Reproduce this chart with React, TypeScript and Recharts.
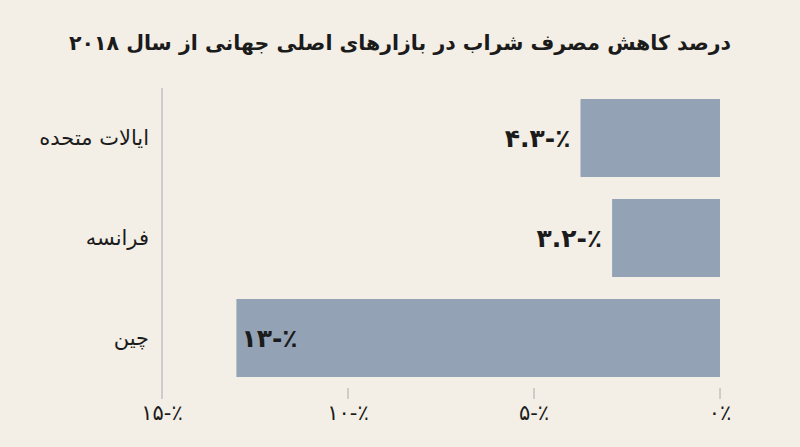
import React from 'react';
import { BarChart, Bar, XAxis, YAxis, LabelList } from 'recharts';

const countries = ['ایالات متحده', 'فرانسه', 'چین'];
const declines = [-3.75, -2.9, -13];
const valueLabels = ['۴.۳-٪', '۳.۲-٪', '۱۳-٪'];
const xTicks = [-15, -10, -5, 0];

const title = 'درصد کاهش مصرف شراب در بازارهای اصلی جهانی از سال ۲۰۱۸';

const data = countries.map((c, i) => ({ name: c, value: declines[i] }));

const faDigits = '۰۱۲۳۴۵۶۷۸۹';
const fa = (n: number) => String(n).replace(/\d/g, (d) => faDigits[Number(d)]);

const FONT = '"DejaVu Sans", sans-serif';
const BG = '#f3efe6';
const BAR = '#93a3b5';
const INK = '#1b1b1b';

const ValueLabel = (props: any) => {
  const { x, y, width, height, index } = props;
  const left = Math.min(x, x + width);
  const cy = y + height / 2;
  const text = valueLabels[index];
  const inside = Math.abs(declines[index]) > 10;
  return (
    <text
      x={inside ? left + 5 : left - 10}
      y={cy}
      textAnchor={inside ? 'start' : 'end'}
      dominantBaseline="central"
      fontFamily={FONT}
      fontWeight="bold"
      fontSize={25}
      fill={INK}
    >
      {text}
    </text>
  );
};

export default function App() {
  return (
    <div
      style={{
        position: 'absolute',
        left: 0,
        top: 0,
        width: 800,
        height: 447,
        background: BG,
        fontFamily: FONT,
      }}
    >
      <div
        style={{
          position: 'absolute',
          top: 31,
          left: 0,
          width: 800,
          textAlign: 'center',
          fontSize: 20.5,
          fontWeight: 'bold',
          color: INK,
          direction: 'rtl',
        }}
      >
        {title}
      </div>
      <BarChart
        width={800}
        height={447}
        layout="vertical"
        data={data}
        margin={{ top: 88, right: 80, bottom: 29, left: 0 }}
      >
        <XAxis
          type="number"
          domain={[-15, 0]}
          ticks={xTicks}
          axisLine={false}
          tickSize={11}
          tickMargin={6}
          tickLine={{ stroke: '#aaaaaa' }}
          tickFormatter={(v: number) => (v === 0 ? '۰٪' : `${fa(Math.abs(v))}-٪`)}
          tick={{ fill: INK, fontSize: 21, fontFamily: FONT }}
          interval={0}
        />
        <YAxis
          type="category"
          dataKey="name"
          width={162}
          axisLine={{ stroke: '#aaaaaa' }}
          tickLine={false}
          tickSize={0}
          tickMargin={13}
          tick={{ fill: INK, fontSize: 21, fontFamily: FONT }}
        />
        <Bar dataKey="value" fill={BAR} barSize={78} isAnimationActive={false}>
          <LabelList dataKey="value" content={ValueLabel} />
        </Bar>
      </BarChart>
    </div>
  );
}
